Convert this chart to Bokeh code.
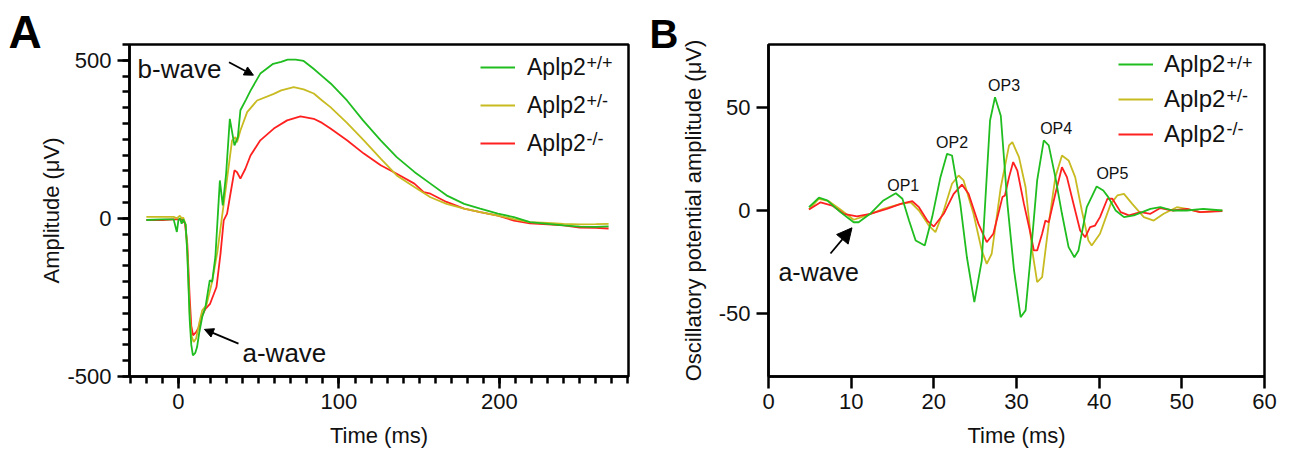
from bokeh.plotting import figure
from bokeh.models import (Range1d, FixedTicker, Label, Arrow, NormalHead, Legend, LegendItem)
from bokeh.layouts import row
from bokeh.embed import file_html
from bokeh.resources import INLINE

FONT = "Liberation Sans"
GREEN = "#1fbd1f"
OLIVE = "#c8bb22"
RED = "#ff2020"

# ---------------- Panel A data (full-field ERG) ----------------
a_wt_t = [-20, -10, -3, -1, 0, 1, 2, 3, 4.5, 5.5, 7, 8, 9, 10.5, 11.6, 13, 14.8, 16.8, 19.5, 21, 23, 25.8,
          27.6, 29.7, 32, 34.9, 37, 38.6, 42, 45, 51, 59, 64, 68, 73, 78, 84, 89.5, 95, 105, 115, 126, 136,
          147, 157, 167, 178, 188, 199, 209, 219, 230, 240, 250, 260, 268]
a_wt_v = [-5, -3, -3, -43, -5, 0, -17, -3, -20, -110, -320, -400, -433, -425, -407, -360, -312, -281, -196,
          -200, -122, 120, 41, 141, 315, 231, 257, 342, 375, 405, 458, 489, 495, 502, 502, 498, 474, 450,
          426, 373, 310, 247, 194, 147, 110, 73, 46, 31, 15, 4, -12, -17, -22, -26, -27, -25]

a_het_t = [-20, -10, -3, -1, 0, 1, 2, 3, 4.5, 5.5, 7, 8, 9.5, 11, 13, 14.8, 17.4, 21, 24.3, 27, 29.9, 33.4,
           35.5, 36.5, 38.6, 42.8, 49, 59.4, 64, 71.8, 78, 84.3, 89.5, 94.7, 105, 115.5, 126, 136, 147, 157,
           167, 178, 188, 199, 209, 219, 230, 240, 250, 260, 268]
a_het_v = [5, 5, 5, 0, 5, 8, 0, 3, -20, -100, -300, -370, -391, -380, -330, -291, -275, -200, -104, 0, 110,
           247, 257, 241, 278, 336, 373, 394, 405, 415, 408, 395, 373, 352, 302, 247, 189, 136, 99, 67, 46,
           31, 20, 9, -2, -12, -14, -17, -19, -18, -17]

a_ko_t = [-20, -10, -3, 0, 2, 4, 5.5, 7, 8, 9.1, 11, 12.7, 14.5, 16.8, 19.7, 23.7, 26.2, 28.2, 30.3, 32.4,
          34.9, 36.5, 38.6, 41.7, 44.9, 51, 59.4, 67.7, 76, 84.3, 89.5, 94.7, 105, 115.5, 126, 136, 147,
          152.8, 157, 167, 178, 188, 199, 209, 219, 230, 240, 250, 260, 268]
a_ko_v = [-5, -5, -3, -3, -3, -15, -80, -250, -340, -370, -360, -344, -310, -286, -270, -217, -112, -6, 15,
          78, 152, 146, 126, 157, 199, 247, 284, 310, 323, 315, 302, 284, 247, 205, 168, 141, 110, 83, 78,
          52, 31, 20, 9, -7, -16, -19, -22, -29, -30, -32]

a_xticks = [0, 100, 200]
a_yticks = [-500, 0, 500]

# ---------------- Panel B data (oscillatory potentials) ----------------
b_wt_t = [4.9, 6.1, 7.1, 8.7, 10.3, 10.9, 12.3, 13.9, 15.4, 16.2, 17.0, 17.8, 18.9, 19.8, 20.8, 21.6, 22.2,
          23.2, 24.0, 24.9, 25.8, 26.8, 27.4, 28.1, 28.9, 29.7, 30.5, 31.1, 31.7, 32.5, 33.3, 33.9, 34.7,
          35.5, 36.3, 37.0, 37.5, 38.5, 39.7, 40.5, 41.1, 42.0, 43.0, 44.2, 46.2, 47.4, 48.9, 50.6, 52.6, 54.9]
b_wt_v = [1.6, 6.2, 4.9, -0.8, -5.7, -5.7, -1.6, 4.9, 8.4, 5.7, -4.9, -14.6, -17, -3.2, 16.2, 27.5, 26.7,
          3.2, -22.7, -44.5, -24.3, 43.7, 55, 46, 3.2, -29, -51.8, -48.5, -22.7, 14.6, 34, 31.6, 16.2,
          -1.6, -17.8, -22.7, -19.4, 1.6, 11.7, 9.7, 6.5, 0, -3.2, -2.4, 0.8, 1.6, 0, 0, 0.8, 0]

b_het_t = [4.9, 6.1, 7.3, 8.7, 10.3, 11.9, 13.9, 16.0, 17.2, 18.2, 19.4, 20.2, 21.2, 22.2, 23.0, 23.6, 24.8,
           25.8, 26.4, 27.0, 28.1, 29.1, 29.5, 30.3, 31.1, 31.9, 32.5, 33.1, 33.9, 34.7, 35.5, 36.3, 37.1,
           37.9, 38.7, 39.1, 40.1, 41.4, 42.2, 43.0, 44.0, 45.4, 46.6, 47.8, 49.4, 50.6, 52.2, 54.9]
b_het_v = [0.5, 5.7, 4.5, 0.5, -4.5, -2.4, 0.8, 3.2, 4, 0, -7.3, -10.5, 0, 13, 17, 14.6, -1.6, -19.4, -25.9,
           -21, 11.3, 31.6, 33.2, 25.9, 11.3, -19.4, -34.8, -32.4, -6.5, 16.2, 26.7, 24.3, 16.2, 0, -14.6,
           -17, -11.3, 3.2, 7.3, 8.1, 3.2, -3.2, -4.9, -1.6, 1.6, 0.8, -0.8, 0]

b_ko_t = [4.9, 6.3, 7.7, 9.1, 10.7, 12.3, 14.3, 16.0, 17.4, 18.2, 19.2, 20.0, 21.2, 22.4, 23.4, 24.2, 25.4,
          26.4, 27.2, 28.3, 28.6, 29.1, 29.6, 30.1, 30.9, 31.7, 32.1, 32.5, 33.1, 33.5, 33.9, 34.7, 35.5,
          36.1, 36.9, 37.7, 38.3, 38.9, 39.5, 40.1, 41.0, 41.6, 42.6, 43.6, 45.0, 46.2, 47.4, 48.9, 50.6,
          52.2, 54.9]
b_ko_v = [0.5, 4, 2.4, -1.6, -2.9, -1.6, 0.8, 3.2, 4.5, 1.6, -4.9, -7.8, -1.6, 8.1, 12.6, 8.1, -6.5, -15.4,
          -11.3, 6.5, 7.3, 16.2, 23.5, 19.4, 3.2, -11.3, -19.4, -19.4, -11.3, -4.9, -5.7, 8.1, 21, 16.2,
          3.2, -9.7, -13, -8.1, -7.3, -3.2, 5.7, 5.7, -0.8, -2.4, -0.8, -1.6, 1.2, 0, 0.8, -0.8, -0.3]

b_xticks = [0, 10, 20, 30, 40, 50, 60]
b_yticks = [-50, 0, 50]

op_labels = ["OP1", "OP2", "OP3", "OP4", "OP5"]
op_t = [16.3, 22.2, 28.5, 34.8, 41.6]
op_v = [12.1, 33.2, 60.7, 40.0, 17.8]

genotypes = ["Aplp2", "Aplp2", "Aplp2"]
genotype_sup = ["+/+", "+/-", "-/-"]


def style(p, tick_size, label_size, ylabel_standoff):
    p.outline_line_color = "black"
    p.outline_line_width = 2.5
    p.outline_line_alpha = 1
    p.xgrid.visible = False
    p.ygrid.visible = False
    for ax in (p.xaxis[0], p.yaxis[0]):
        ax.axis_line_width = 2.5
        ax.major_tick_line_width = 2.5
        ax.minor_tick_line_width = 2.5
        ax.major_tick_out = 12
        ax.major_tick_in = 0
        ax.minor_tick_out = 7
        ax.minor_tick_in = 0
        ax.major_label_text_font = FONT
        ax.major_label_text_font_size = f"{tick_size}px"
        ax.major_label_text_color = "#111111"
        ax.axis_label_text_font = FONT
        ax.axis_label_text_font_size = f"{label_size}px"
        ax.axis_label_text_font_style = "normal"
        ax.axis_label_text_color = "#111111"
    p.xaxis[0].major_label_standoff = 5
    p.xaxis[0].axis_label_standoff = 11
    p.yaxis[0].major_label_standoff = 6
    p.yaxis[0].axis_label_standoff = ylabel_standoff


def add_legend(p, renderers, x, y, gh, sp, gw, standoff, fsize, sup_x, sup_y0, sup_step, sup_size):
    items = [LegendItem(label=g, renderers=[r]) for g, r in zip(genotypes, renderers)]
    leg = Legend(items=items, location=(x, y), padding=0, margin=0, spacing=sp,
                 glyph_height=gh, label_height=gh, glyph_width=gw, label_standoff=standoff,
                 label_text_font=FONT, label_text_font_size=f"{fsize}px", label_text_color="#111111",
                 border_line_alpha=0, background_fill_alpha=0)
    p.add_layout(leg)
    for i, s in enumerate(genotype_sup):
        p.add_layout(Label(x=sup_x, y=sup_y0 - i * sup_step, x_units="screen", y_units="screen",
                           text=s, text_font=FONT, text_font_size=f"{sup_size}px",
                           text_color="#111111", text_baseline="alphabetic"))


def panel_letter(p, letter, x, y, size):
    p.add_layout(Label(x=x, y=y, x_units="screen", y_units="screen", text=letter, text_font=FONT,
                       text_font_size=f"{size}px", text_font_style="bold", text_color="black",
                       text_baseline="alphabetic"), "left")


# ---------------- Figure A ----------------
pa = figure(width=640, height=451, output_backend="svg", toolbar_location=None,
            x_range=Range1d(-30.5, 280.4), y_range=Range1d(-500, 550),
            min_border_left=129, min_border_right=12, min_border_top=44, min_border_bottom=75)
style(pa, 22, 22, 0)
pa.xaxis.ticker = FixedTicker(ticks=a_xticks, minor_ticks=list(range(-30, 281, 10)))
pa.yaxis.ticker = FixedTicker(ticks=a_yticks, minor_ticks=list(range(-500, 551, 50)))
pa.yaxis.major_label_overrides = {-500: "-500"}
pa.xaxis.axis_label = "Time (ms)"
pa.yaxis.axis_label = "Amplitude (μV)"

ra3 = pa.line(a_ko_t, a_ko_v, line_color=RED, line_width=1.8)
ra2 = pa.line(a_het_t, a_het_v, line_color=OLIVE, line_width=1.8)
ra1 = pa.line(a_wt_t, a_wt_v, line_color=GREEN, line_width=1.8)

add_legend(pa, [ra1, ra2, ra3], 351, 218, 30, 8, 35, 12, 23, 457, 314, 38, 18)

pa.add_layout(Label(x=-25.5, y=471, text="b-wave", text_font=FONT, text_font_size="26px",
                    text_color="#111111", text_baseline="alphabetic"))
pa.add_layout(Arrow(x_start=31.5, y_start=494, x_end=46.7, y_end=453, line_width=1.8,
                    end=NormalHead(size=9, fill_color="black", line_color="black")))
pa.add_layout(Label(x=39.9, y=-427, text="a-wave", text_font=FONT, text_font_size="26px",
                    text_color="#111111", text_baseline="alphabetic"))
pa.add_layout(Arrow(x_start=37.4, y_start=-396, x_end=16.2, y_end=-351, line_width=1.8,
                    end=NormalHead(size=9, fill_color="black", line_color="black")))
panel_letter(pa, "A", 5, 345, 46)

# ---------------- Figure B ----------------
pb = figure(width=653, height=451, output_backend="svg", toolbar_location=None,
            x_range=Range1d(0, 60), y_range=Range1d(-80.6, 80.6),
            min_border_left=128, min_border_right=29, min_border_top=44, min_border_bottom=75)
style(pb, 22, 22, 10)
pb.xaxis.ticker = FixedTicker(ticks=b_xticks, minor_ticks=[])
pb.yaxis.ticker = FixedTicker(ticks=b_yticks, minor_ticks=[])
pb.yaxis.major_label_overrides = {-50: "-50"}
pb.xaxis.axis_label = "Time (ms)"
pb.yaxis.axis_label = "Oscillatory potential amplitude (μV)"

rb2 = pb.line(b_het_t, b_het_v, line_color=OLIVE, line_width=1.8)
rb3 = pb.line(b_ko_t, b_ko_v, line_color=RED, line_width=1.8)
rb1 = pb.line(b_wt_t, b_wt_v, line_color=GREEN, line_width=1.8)

add_legend(pb, [rb1, rb2, rb3], 350, 228, 26, 7, 35, 11, 24, 458, 314, 33, 18)

for lab, t, v in zip(op_labels, op_t, op_v):
    pb.add_layout(Label(x=t, y=v, text=lab, text_font=FONT, text_font_size="16px",
                        text_color="#111111", text_align="center", text_baseline="alphabetic"))
pb.add_layout(Label(x=1.2, y=-30, text="a-wave", text_font=FONT, text_font_size="25px",
                    text_color="#111111", text_baseline="alphabetic"))
pb.add_layout(Arrow(x_start=7.5, y_start=-20.9, x_end=10.1, y_end=-8.4, line_width=1.8,
                    end=NormalHead(size=15, fill_color="black", line_color="black")))
panel_letter(pb, "B", 1, 343, 40)

layout = row(pa, pb)
open("out.html", "w").write(file_html(layout, INLINE))
